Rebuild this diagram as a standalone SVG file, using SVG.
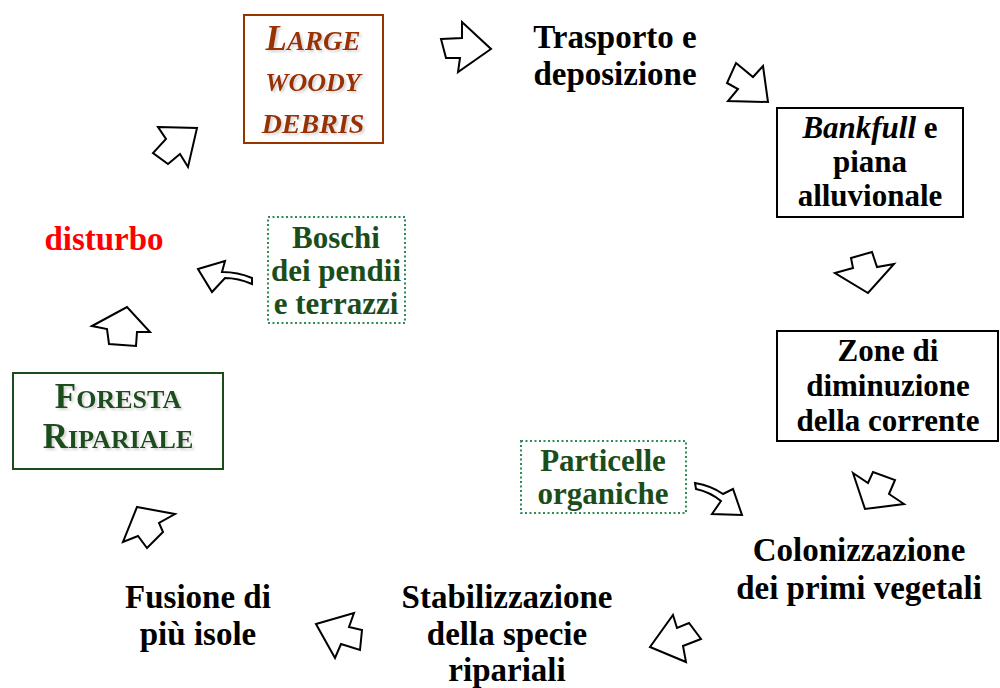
<svg xmlns="http://www.w3.org/2000/svg" width="1000" height="688" viewBox="0 0 1000 688">
<defs>
<filter id="sh" x="-10%" y="-10%" width="130%" height="130%">
<feDropShadow dx="2" dy="2" stdDeviation="0.8" flood-color="#aaa" flood-opacity="0.5"/>
</filter>
</defs>
<style>
text,tspan{font-family:"Liberation Serif","Times New Roman",serif;font-weight:bold}
text{text-anchor:middle}
.big{font-size:33px;fill:#000}
.box{font-size:31px;fill:#000}
.grn{font-size:31px;fill:#1b4d1b}
.red{font-size:33px;fill:#ff0000}
.lwd{font-style:italic;fill:#993300;filter:url(#sh)}
.fr{fill:#1b4d1b;filter:url(#sh)}
.it{font-style:italic}
.arrow{fill:#fff;stroke:#000;stroke-width:2;stroke-linejoin:miter}
.solid{fill:#fff;stroke:#000;stroke-width:2}
.dot{fill:#fff;stroke:#2e8b57;stroke-width:2;stroke-dasharray:2 2.5}
</style>
<rect width="1000" height="688" fill="#fff"/>

<g id="lwd">
<rect x="244" y="15" width="139" height="128" fill="#fff" stroke="#993300" stroke-width="2"/>
<text class="lwd" x="313" y="50"><tspan font-size="35">L</tspan><tspan font-size="27">ARGE</tspan></text>
<text class="lwd" x="313" y="91" font-size="26">WOODY</text>
<text class="lwd" x="313" y="133" font-size="28">DEBRIS</text>
</g>

<g id="trasporto">
<text class="big" x="615" y="48">Trasporto e</text>
<text class="big" x="615" y="85">deposizione</text>
</g>

<g id="bankfull">
<rect class="solid" x="777" y="108" width="186" height="109"/>
<text class="box" x="870" y="138"><tspan class="it">Bankfull</tspan> e</text>
<text class="box" x="870" y="172">piana</text>
<text class="box" x="870" y="206">alluvionale</text>
</g>

<g id="zone">
<rect class="solid" x="777" y="331" width="221" height="110"/>
<text class="box" x="888" y="361">Zone di</text>
<text class="box" x="888" y="396">diminuzione</text>
<text class="box" x="888" y="431">della corrente</text>
</g>

<g id="colonizzazione">
<text class="big" x="859" y="561">Colonizzazione</text>
<text class="big" x="859" y="599">dei primi vegetali</text>
</g>

<g id="particelle">
<rect class="dot" x="521" y="441" width="165" height="72"/>
<text class="grn" x="603" y="471">Particelle</text>
<text class="grn" x="603" y="504">organiche</text>
</g>

<g id="stabilizzazione">
<text class="big" x="507" y="608">Stabilizzazione</text>
<text class="big" x="507" y="645">della specie</text>
<text class="big" x="507" y="681">ripariali</text>
</g>

<g id="fusione">
<text class="big" x="198" y="608">Fusione di</text>
<text class="big" x="198" y="645">più isole</text>
</g>

<g id="foresta">
<rect x="13" y="373" width="210" height="96" fill="#fff" stroke="#1b4d1b" stroke-width="2"/>
<text class="fr" x="118" y="408"><tspan font-size="35">F</tspan><tspan font-size="26">ORESTA</tspan></text>
<text class="fr" x="118" y="448"><tspan font-size="35">R</tspan><tspan font-size="26">IPARIALE</tspan></text>
</g>

<g id="disturbo">
<text class="red" x="104" y="250">disturbo</text>
</g>

<g id="boschi">
<rect class="dot" x="268" y="217" width="137" height="106"/>
<text class="grn" x="336" y="248">Boschi</text>
<text class="grn" x="336" y="281">dei pendii</text>
<text class="grn" x="336" y="314">e terrazzi</text>
</g>

<g id="connectors">
<polygon class="arrow" points="441,39 462,38 462,22 491,49 458,72 460,58 446,58"/>
<polygon class="arrow" points="736,63 753,77 763,66 768,102 728,101 738,89 727,83"/>
<polygon class="arrow" points="835,273 853,268 851,258 872,252 877,267 894,264 868,293"/>
<polygon class="arrow" points="853,473 868,483 873,472 895,480 889,494 904,504 865,509"/>
<polygon class="arrow" points="673,615 677,628 689,623 701,639 683,646 686,662 650,647"/>
<polygon class="arrow" points="316,624 354,613 349,627 362,630 360,650 341,644 335,658"/>
<polygon class="arrow" points="137,507 175,514 159,523 163,532 147,548 138,536 123,542"/>
<polygon class="arrow" points="92,326 127,307 150,332 137,332 136,346 109,344 107,329"/>
<polygon class="arrow" points="158,127 197,128 188,167 180,154 168,164 153,153 166,139"/>
<path class="arrow" d="M198,269 L225,261 L222,272 Q238,272 252,278 L252,284 Q238,278 225,278 L212,292 Z"/>
<path class="arrow" d="M695,483 Q712,486 723,494 L733,489 L742,515 L712,514 L721,501 Q710,492 696,489 Z"/>
</g>
</svg>
